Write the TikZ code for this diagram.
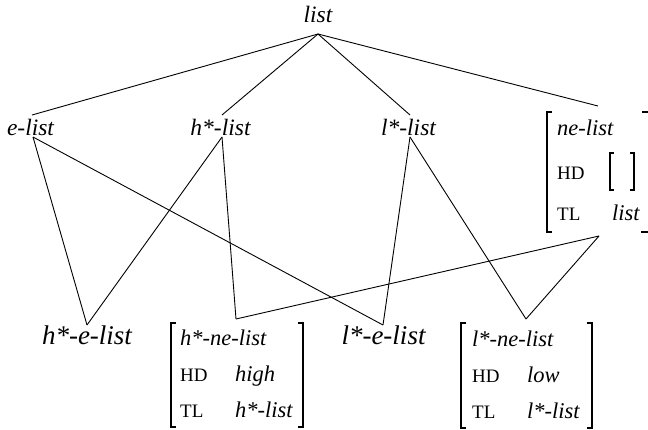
\documentclass[tikz,border=0pt]{standalone}
\usepackage{fontspec}
\setmainfont{Liberation Serif}
\begin{document}
\begin{tikzpicture}[x=1pt,y=-1pt,
  lab/.style={font=\fontsize{23.5}{23.5}\selectfont\itshape, inner sep=0pt, anchor=base},
  biglab/.style={font=\fontsize{27}{27}\selectfont\itshape, inner sep=0pt, anchor=base},
  val/.style={font=\fontsize{22.5}{22.5}\selectfont\itshape, inner sep=0pt, anchor=base west},
  feat/.style={font=\fontsize{19}{19}\selectfont, inner sep=0pt, anchor=base west},
  edge/.style={line width=0.9pt},
  brk/.style={line width=1.4pt}]
\useasboundingbox (0,0) rectangle (648,429);
\fill[white] (0,0) rectangle (648,429);

% top
\node[lab] (list) at (318,22) {list};
% middle row
\node[lab] (elist) at (30.5,135) {e-list};
\node[lab] (hlist) at (220.5,135) {h*-list};
\node[lab] (llist) at (408.5,135) {l*-list};
% ne-list AVM
\node[val] (nelist) at (557,135) {ne-list};
\node[feat] (nehd) at (557,179) {HD};
\node[feat] (netl) at (557,220) {TL};
\node[val] (netlv) at (612,220) {list};
\draw[line width=1.1pt] (614,153) -- (610,153) -- (610,190) -- (614,190);
\draw[line width=1.1pt] (630,153) -- (634,153) -- (634,190) -- (630,190);
\draw[brk] (552,112) -- (547,112) -- (547,232) -- (552,232);
\draw[brk] (642,112) -- (649,112) -- (649,232) -- (641,232);

% bottom row
\node[biglab] (helist) at (87,344) {h*-e-list};
\node[biglab] (lelist) at (383.5,344) {l*-e-list};
% h*-ne-list AVM
\node[val] (hnelist) at (180,345) {h*-ne-list};
\node[feat] (hnhd) at (180,381) {HD};
\node[val] (hnhdv) at (235,381) {high};
\node[feat] (hntl) at (180,417) {TL};
\node[val] (hntlv) at (235,417) {h*-list};
\draw[brk] (176,323) -- (171,323) -- (171,427) -- (176,427);
\draw[brk] (298,323) -- (303,323) -- (303,427) -- (298,427);
% l*-ne-list AVM
\node[val] (lnelist) at (472,346) {l*-ne-list};
\node[feat] (lnhd) at (472,382) {HD};
\node[val] (lnhdv) at (527,382) {low};
\node[feat] (lntl) at (472,418) {TL};
\node[val] (lntlv) at (527,418) {l*-list};
\draw[brk] (466,323) -- (461,323) -- (461,428) -- (466,428);
\draw[brk] (587,323) -- (592,323) -- (592,428) -- (587,428);

% attachment points
\coordinate (list-b) at (318,34);
\coordinate (elist-t) at (32,115);
\coordinate (elist-b) at (33,137);
\coordinate (hlist-t) at (222,115);
\coordinate (hlist-b) at (222,137);
\coordinate (llist-t) at (410,115);
\coordinate (llist-b) at (410,137);
\coordinate (nelist-t) at (598,106);
\coordinate (nelist-b) at (599,236);
\coordinate (helist-t) at (87,325);
\coordinate (hnelist-t) at (236,319);
\coordinate (lelist-t) at (383,325);
\coordinate (lnelist-t) at (526,319);

% connectors
\draw[edge] (list-b) -- (elist-t);
\draw[edge] (list-b) -- (hlist-t);
\draw[edge] (list-b) -- (llist-t);
\draw[edge] (list-b) -- (nelist-t);
\draw[edge] (elist-b) -- (helist-t);
\draw[edge] (elist-b) -- (lelist-t);
\draw[edge] (hlist-b) -- (helist-t);
\draw[edge] (hlist-b) -- (hnelist-t);
\draw[edge] (llist-b) -- (lelist-t);
\draw[edge] (llist-b) -- (lnelist-t);
\draw[edge] (nelist-b) -- (hnelist-t);
\draw[edge] (nelist-b) -- (lnelist-t);
\end{tikzpicture}
\end{document}
